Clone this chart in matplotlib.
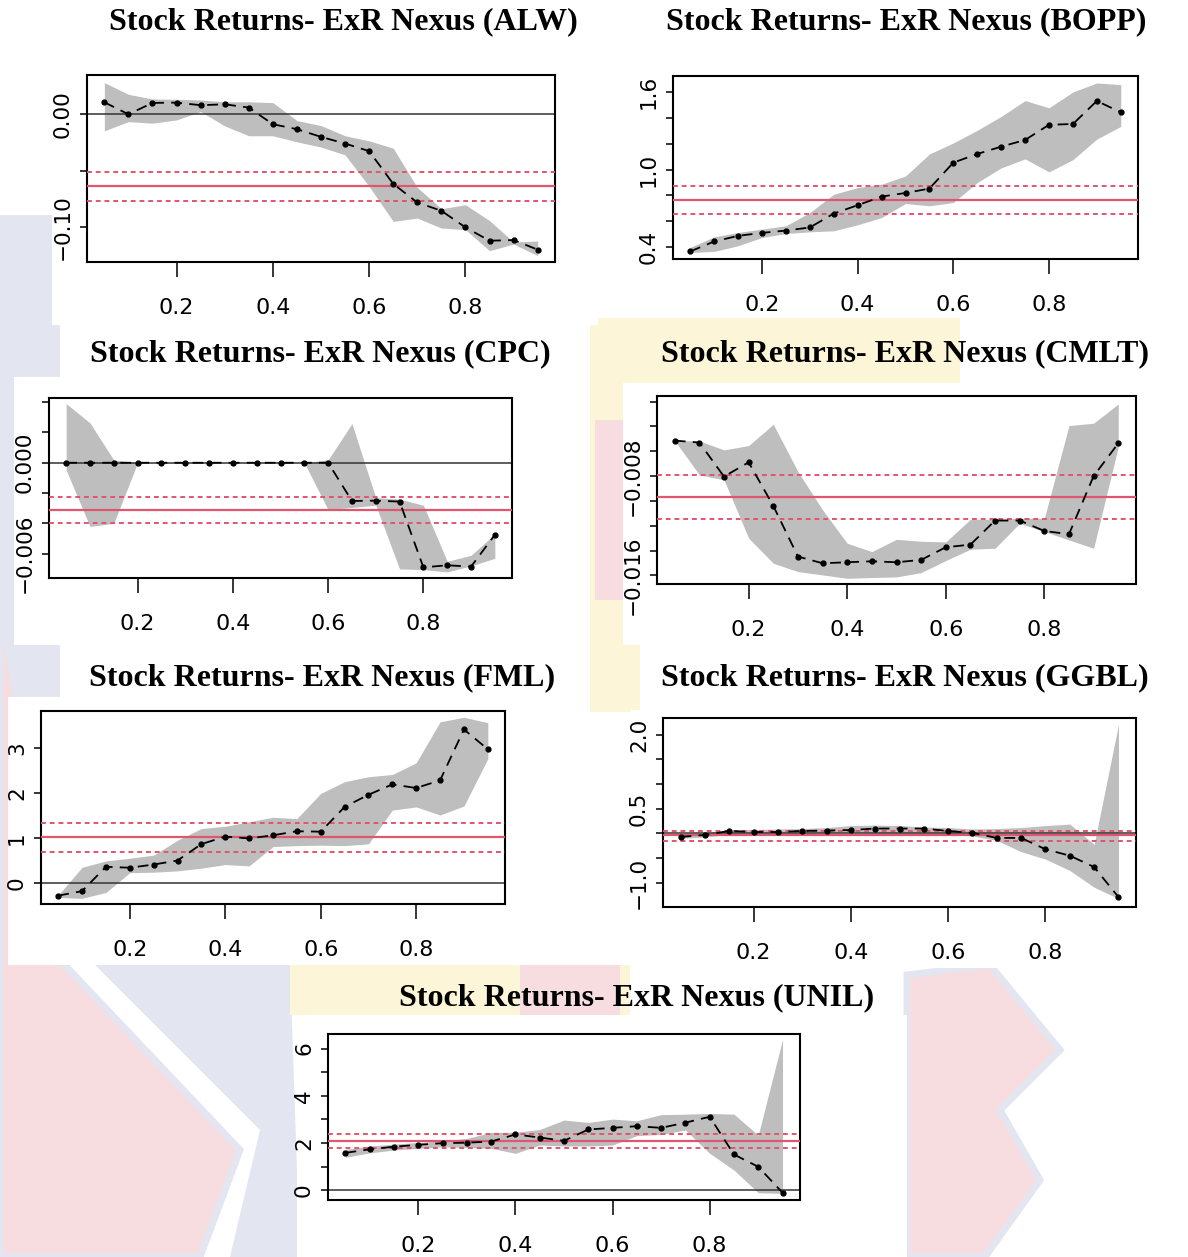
import matplotlib
matplotlib.use('Agg')
import matplotlib.pyplot as plt
from matplotlib import font_manager
from matplotlib.patches import Rectangle, Polygon
import numpy as np

taus = [0.05, 0.10, 0.15, 0.20, 0.25, 0.30, 0.35, 0.40, 0.45, 0.50,
        0.55, 0.60, 0.65, 0.70, 0.75, 0.80, 0.85, 0.90, 0.95]

# ALW
alw_est = [0.0106, 0.0, 0.0100, 0.0103, 0.0080, 0.0088, 0.0059, -0.0088, -0.0132, -0.0200,
           -0.0259, -0.0326, -0.0615, -0.0780, -0.0853, -0.1000, -0.1118, -0.1112, -0.1197]
alw_hi = [0.0280, 0.0176, 0.0135, 0.0132, 0.0126, 0.0110, 0.0110, 0.0103, -0.0056, -0.0100,
          -0.0190, -0.0235, -0.0300, -0.0647, -0.0835, -0.0800, -0.0940, -0.1130, -0.1120]
alw_lo = [-0.0147, -0.0065, -0.0079, -0.0050, 0.0024, -0.0103, -0.0190, -0.0190, -0.0244, -0.0290,
          -0.0359, -0.0638, -0.0947, -0.0918, -0.1006, -0.1020, -0.1206, -0.1147, -0.1250]
alw_ols = [-0.0638, -0.0509, -0.0768]

# BOPP
bopp_est = [0.364, 0.441, 0.485, 0.508, 0.526, 0.550, 0.658, 0.723, 0.790, 0.818,
            0.852, 1.054, 1.121, 1.178, 1.230, 1.348, 1.354, 1.533, 1.445]
bopp_hi = [0.395, 0.477, 0.511, 0.537, 0.563, 0.666, 0.808, 0.860, 0.886, 0.950,
           1.121, 1.207, 1.305, 1.413, 1.536, 1.480, 1.603, 1.673, 1.660]
bopp_lo = [0.356, 0.364, 0.408, 0.472, 0.503, 0.516, 0.524, 0.571, 0.627, 0.736,
           0.718, 0.744, 0.899, 1.013, 1.083, 0.982, 1.077, 1.237, 1.335]
bopp_ols = [0.765, 0.874, 0.657]

# CPC
cpc_est = [0.0, 0.0, 0.0, 0.0, 0.0, 0.0, 0.0, 0.0, 0.0, 0.0,
           0.0, 0.0, -0.00252, -0.00250, -0.00256, -0.00690, -0.00676, -0.00685, -0.00475]
cpc_hi = [0.0039, 0.00263, 0.00018, 0.0, 0.0, 0.0, 0.0, 0.0, 0.0, 0.0,
          0.0, 0.0002, 0.00258, -0.0023, -0.0024, -0.0028, -0.0065, -0.0061, -0.0047]
cpc_lo = [-0.00048, -0.0042, -0.0040, 0.0, 0.0, 0.0, 0.0, 0.0, 0.0, 0.0,
          0.0, -0.0031, -0.00295, -0.0028, -0.0070, -0.00705, -0.0072, -0.0068, -0.0063]
cpc_ols = [-0.00313, -0.00228, -0.0040]

# CMLT
cmlt_est = [-0.00514, -0.0053, -0.00804, -0.00689, -0.0104, -0.01448, -0.01502, -0.01494, -0.01486, -0.01494,
            -0.01475, -0.01373, -0.01352, -0.01158, -0.01158, -0.01242, -0.01268, -0.0080, -0.00536]
cmlt_hi = [-0.00514, -0.00517, -0.00589, -0.00554, -0.00383, -0.00764, -0.01072, -0.01341, -0.01408, -0.01309,
           -0.01325, -0.0133, -0.01148, -0.01148, -0.0114, -0.0114, -0.00393, -0.00374, -0.00219]
cmlt_lo = [-0.00514, -0.0079, -0.0083, -0.0130, -0.01502, -0.01569, -0.01596, -0.01623, -0.01617, -0.01612,
           -0.01577, -0.0148, -0.01389, -0.01381, -0.0118, -0.01247, -0.01314, -0.01381, -0.00562]
cmlt_ols = [-0.0097, -0.00793, -0.01148]

# FML
fml_est = [-0.28, -0.18, 0.36, 0.34, 0.41, 0.50, 0.865, 1.03, 0.99, 1.06,
           1.15, 1.14, 1.69, 1.96, 2.19, 2.11, 2.28, 3.41, 2.97]
fml_hi = [-0.27, 0.35, 0.49, 0.55, 0.62, 0.95, 1.21, 1.26, 1.36, 1.46,
          1.43, 1.99, 2.25, 2.36, 2.41, 2.67, 3.58, 3.68, 3.56]
fml_lo = [-0.32, -0.34, -0.21, 0.23, 0.24, 0.27, 0.33, 0.41, 0.38, 0.81,
          0.83, 0.84, 0.83, 0.87, 1.62, 1.69, 1.51, 1.71, 2.76]
fml_ols = [1.02, 1.33, 0.68]

# GGBL
ggbl_est = [-0.07, -0.03, 0.05, 0.03, 0.03, 0.05, 0.06, 0.07, 0.10, 0.10,
            0.10, 0.05, 0.01, -0.09, -0.09, -0.32, -0.45, -0.68, -1.29]
ggbl_hi = [0.0, 0.02, 0.07, 0.08, 0.09, 0.10, 0.12, 0.16, 0.17, 0.16,
           0.13, 0.12, 0.09, 0.10, 0.12, 0.16, 0.19, -0.22, 2.21]
ggbl_lo = [-0.10, -0.07, -0.02, -0.01, -0.01, 0.0, 0.02, 0.03, 0.01, 0.0,
           0.0, -0.02, -0.05, -0.14, -0.37, -0.52, -0.75, -1.09, -1.32]
ggbl_ols = [-0.03, 0.05, -0.15]

# UNIL
unil_est = [1.58, 1.73, 1.84, 1.92, 1.99, 2.01, 2.06, 2.36, 2.23, 2.09,
            2.57, 2.64, 2.71, 2.64, 2.86, 3.11, 1.51, 0.99, -0.11]
unil_hi = [1.73, 1.87, 1.95, 2.02, 2.09, 2.19, 2.45, 2.45, 2.57, 2.97,
           2.87, 3.01, 2.94, 3.20, 3.22, 3.25, 3.22, 2.33, 6.39]
unil_lo = [1.39, 1.58, 1.70, 1.77, 1.84, 1.81, 1.77, 1.56, 1.91, 1.87,
           1.87, 1.91, 2.31, 2.36, 2.55, 1.56, 0.85, -0.11, -0.14]
unil_ols = [2.09, 2.40, 1.78]

xticks = [0.2, 0.4, 0.6, 0.8]
xticklabels = ['0.2', '0.4', '0.6', '0.8']

W, H = 1188, 1257
RED = '#E0566E'
BAND = '#BEBEBE'
PINK = '#F8DDE0'
LAV = '#E3E6F0'
YEL = '#FCF5D8'

names = {f.name for f in font_manager.fontManager.ttflist}
xfont = 'Liberation Sans Narrow' if 'Liberation Sans Narrow' in names else 'DejaVu Sans'


def rect(l, t, r, b):
    return [l / W, 1 - b / H, (r - l) / W, (b - t) / H]


fig = plt.figure(figsize=(W / 100, H / 100), dpi=100)

# faint watermark behind the panels
bg = [
    ([(0, 215), (60, 215), (60, 1257), (0, 1257)], LAV, 'none'),
    ([(0, 600), (0, 1257), (200, 1257), (240, 1150), (60, 960)], PINK, LAV),
    ([(95, 965), (290, 965), (300, 1257), (230, 1257), (260, 1130)], LAV, 'none'),
    ([(907, 975), (990, 965), (1060, 1050), (1000, 1110), (1040, 1180), (985, 1257), (907, 1257)], PINK, LAV),
    ([(590, 318), (640, 318), (640, 712), (590, 712)], YEL, 'none'),
    ([(595, 420), (625, 420), (625, 600), (595, 600)], PINK, 'none'),
    ([(290, 965), (630, 965), (630, 1015), (290, 1015)], YEL, 'none'),
    ([(520, 965), (620, 965), (620, 1015), (520, 1015)], PINK, 'none'),
    ([(600, 318), (960, 318), (960, 383), (600, 383)], YEL, 'none'),
]
for pts, col, ec in bg:
    pp = [(x / W, 1 - y / H) for x, y in pts]
    fig.patches.append(Polygon(pp, closed=True, transform=fig.transFigure,
                               facecolor=col, edgecolor=ec, lw=5, zorder=-10))

panels = [
    ('ALW', (52, 62, 598, 325), (87, 75, 555, 262), (343, 22),
     alw_est, alw_lo, alw_hi, alw_ols, (-0.1306, 0.0347),
     [-0.10, -0.05, 0.00], ['\u22120.10', '', '0.00']),
    ('BOPP', (637, 65, 1188, 318), (673, 76, 1138, 259), (906, 22),
     bopp_est, bopp_lo, bopp_hi, bopp_ols, (0.305, 1.727),
     [0.4, 0.6, 0.8, 1.0, 1.2, 1.4, 1.6], ['0.4', '', '', '1.0', '', '', '1.6']),
    ('CPC', (14, 377, 587, 645), (49, 398, 512, 578), (320, 354),
     cpc_est, cpc_lo, cpc_hi, cpc_ols, (-0.0076, 0.00427),
     [-0.006, -0.004, -0.002, 0.0, 0.002, 0.004], ['\u22120.006', '', '', '0.000', '', '']),
    ('CMLT', (623, 383, 1188, 645), (657, 396, 1136, 584), (905, 354),
     cmlt_est, cmlt_lo, cmlt_hi, cmlt_ols, (-0.01669, -0.00155),
     [-0.016, -0.014, -0.012, -0.010, -0.008, -0.006, -0.004, -0.002],
     ['\u22120.016', '', '', '', '\u22120.008', '', '', '']),
    ('FML', (8, 697, 590, 965), (41, 711, 505, 904), (322, 678),
     fml_est, fml_lo, fml_hi, fml_ols, (-0.466, 3.82),
     [0, 1, 2, 3], ['0', '1', '2', '3']),
    ('GGBL', (630, 710, 1188, 968), (663, 718, 1136, 907), (905, 678),
     ggbl_est, ggbl_lo, ggbl_hi, ggbl_ols, (-1.49, 2.34),
     [-1.0, -0.5, 0.0, 0.5, 1.0, 1.5, 2.0], ['\u22121.0', '', '', '0.5', '', '', '2.0']),
    ('UNIL', (297, 1015, 907, 1257), (328, 1034, 800, 1200), (637, 998),
     unil_est, unil_lo, unil_hi, unil_ols, (-0.42, 6.62),
     [0, 1, 2, 3, 4, 5, 6], ['0', '', '2', '', '4', '', '6']),
]

for name, wbox, abox, tpos, est, lo, hi, ols, ylim, yt, ytl in panels:
    fig.patches.append(Rectangle((wbox[0] / W, 1 - wbox[3] / H),
                                 (wbox[2] - wbox[0]) / W, (wbox[3] - wbox[1]) / H,
                                 transform=fig.transFigure, facecolor='white',
                                 edgecolor='none', zorder=-5))
    ax = fig.add_axes(rect(*abox))
    ax.fill_between(taus, lo, hi, color=BAND, lw=0, zorder=1)
    ax.axhline(0, color='#333333', lw=1.1, zorder=2)
    ax.axhline(ols[0], color=RED, lw=1.6, zorder=3)
    ax.axhline(ols[1], color=RED, lw=1.4, ls=(0, (2.5, 2)), zorder=3)
    ax.axhline(ols[2], color=RED, lw=1.4, ls=(0, (2.5, 2)), zorder=3)
    ax.plot(taus, est, color='black', lw=1.3, ls=(0, (6, 4)),
            marker='o', ms=3.5, zorder=4)
    ax.set_xlim(0.014, 0.986)
    ax.set_ylim(*ylim)
    ax.set_xticks(xticks)
    ax.set_xticklabels(xticklabels, fontsize=16, family=xfont)
    ax.set_yticks(yt)
    ax.set_yticklabels(ytl, fontsize=15.5, rotation=90, va='center')
    ax.tick_params(axis='x', length=11, width=1.1, pad=15)
    ax.tick_params(axis='y', length=5, width=1.1, pad=5)
    for s in ax.spines.values():
        s.set_linewidth(1.5)
    fig.text(tpos[0] / W, 1 - tpos[1] / H, 'Stock Returns- ExR Nexus (%s)' % name,
             ha='center', va='center', family='Liberation Serif',
             weight='bold', fontsize=23)

plt.savefig('out.png', dpi=100)
